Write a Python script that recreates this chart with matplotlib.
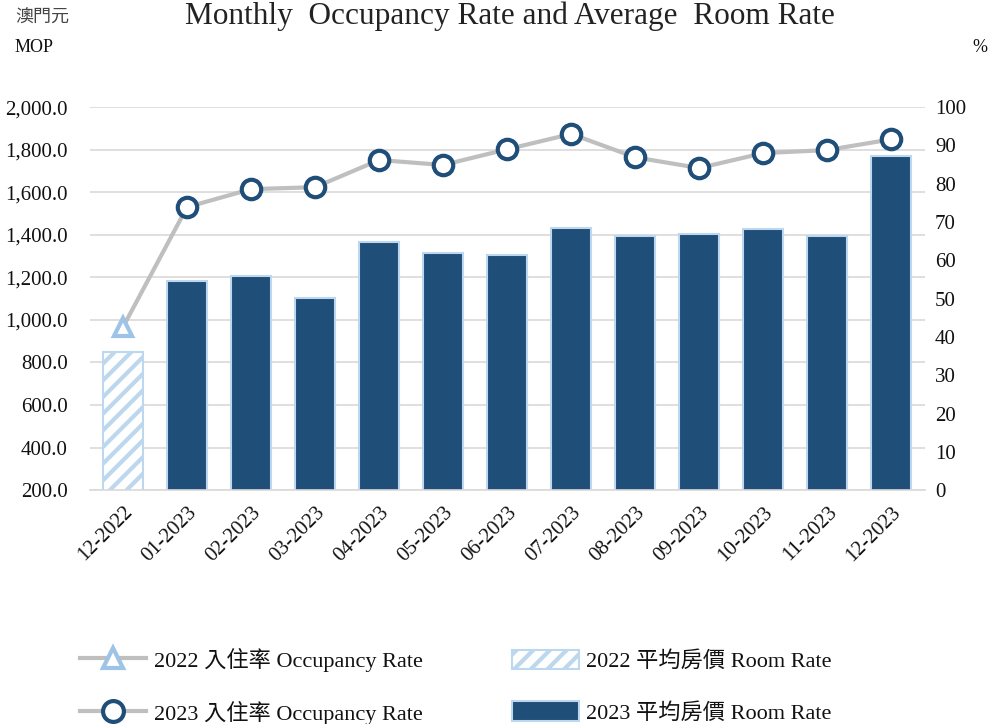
import matplotlib.pyplot as plt
from matplotlib.lines import Line2D
from matplotlib.patches import Patch

plt.rcParams['font.family'] = ['Liberation Serif', 'Noto Sans CJK TC']
plt.rcParams['hatch.linewidth'] = 3.0

months = ['12-2022', '01-2023', '02-2023', '03-2023', '04-2023', '05-2023', '06-2023',
          '07-2023', '08-2023', '09-2023', '10-2023', '11-2023', '12-2023']
room_rate = [850, 1182, 1206, 1102, 1365, 1314, 1304, 1431, 1394, 1403, 1427, 1394, 1770]
occupancy = [42.6, 73.9, 78.6, 79.1, 86.2, 84.9, 89.0, 93.0, 86.9, 84.1, 88.0, 88.8, 91.6]

DARK = '#1F4E79'
LIGHT = '#BDD7EE'
TRI = '#9DC3E6'
GRAY = '#BFBFBF'
TXT = '#111111'

fig = plt.figure(figsize=(9.97, 7.24), dpi=100)
ax = fig.add_axes([0.09, 0.323, 0.838, 0.529])
x = list(range(len(months)))

# bars: first one hatched (2022), rest solid (2023)
ax.bar(x[:1], room_rate[:1], width=0.62, color='white', edgecolor=LIGHT,
       hatch='//', linewidth=1.5, zorder=2)
ax.bar(x[1:], room_rate[1:], width=0.62, color=DARK, edgecolor=LIGHT,
       linewidth=1.5, zorder=2)

ax.set_ylim(200, 2000)
ax.set_yticks(range(200, 2001, 200))
ax.set_yticklabels([f'{v:,.1f}' for v in range(200, 2001, 200)], fontsize=15, color=TXT)
ax.set_xlim(-0.52, 12.53)
ax.set_xticks(x)
ax.set_xticklabels(months, rotation=45, ha='right', rotation_mode='anchor',
                   fontsize=15, color=TXT)
ax.tick_params(axis='y', length=0, pad=16)
ax.tick_params(axis='x', length=0, pad=9)
ax.grid(axis='y', color='#D9D9D9', linewidth=1.2, zorder=0)
ax.set_axisbelow(True)
for s in ['top', 'left', 'right']:
    ax.spines[s].set_visible(False)
ax.spines['bottom'].set_color('#D9D9D9')
ax.spines['bottom'].set_linewidth(1.2)

ax2 = ax.twinx()
ax2.set_ylim(0, 100)
ax2.set_yticks(range(0, 101, 10))
ax2.tick_params(axis='y', length=0, labelsize=15, labelcolor=TXT, pad=7)
for s in ax2.spines.values():
    s.set_visible(False)

ax2.plot(x, occupancy, color=GRAY, linewidth=3, zorder=3)
ax2.plot(x[:1], occupancy[:1], linestyle='none', marker='^', markersize=13,
         markerfacecolor='white', markeredgecolor=TRI, markeredgewidth=3, zorder=4)
ax2.plot(x[1:], occupancy[1:], linestyle='none', marker='o', markersize=14,
         markerfacecolor='white', markeredgecolor=DARK, markeredgewidth=3, zorder=4)

fig.text(0.511, 0.978, 'Monthly  Occupancy Rate and Average  Room Rate',
         ha='center', va='center', fontsize=22.5, color='#222222')
fig.text(0.015, 0.975, '澳門元', ha='left', va='center', fontsize=13, color='#444444')
fig.text(0.015, 0.935, 'MOP', ha='left', va='center', fontsize=13, color=TXT)
fig.text(0.983, 0.935, '%', ha='center', va='center', fontsize=13, color=TXT)

handles = [
    Line2D([], [], color=GRAY, linewidth=3, marker='^', markersize=15,
           markerfacecolor='white', markeredgecolor=TRI, markeredgewidth=3),
    Line2D([], [], color=GRAY, linewidth=3, marker='o', markersize=15,
           markerfacecolor='white', markeredgecolor=DARK, markeredgewidth=3),
    Patch(facecolor='white', edgecolor=LIGHT, hatch='//', linewidth=1.5),
    Patch(facecolor=DARK, edgecolor=LIGHT, linewidth=1.5),
]
labels = ['2022 入住率 Occupancy Rate', '2023 入住率 Occupancy Rate',
          '2022 平均房價 Room Rate', '2023 平均房價 Room Rate']
fig.legend(handles, labels, loc='lower left', bbox_to_anchor=(0.06, -0.029), ncol=2,
           frameon=False, fontsize=16, handlelength=3.0, handletextpad=0.35,
           columnspacing=4.0, labelspacing=1.3, handleheight=1.0,
           labelcolor=TXT)

fig.savefig('out.png', dpi=100)
